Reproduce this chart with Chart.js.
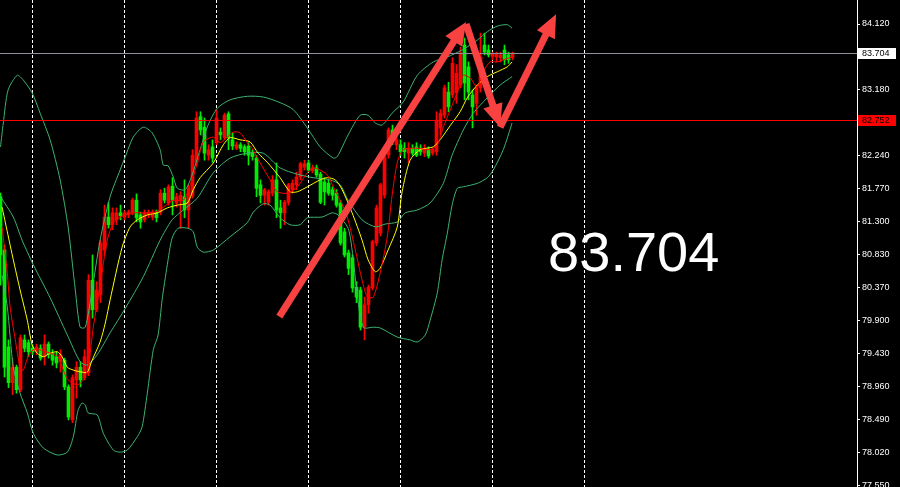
<!DOCTYPE html>
<html>
<head>
<meta charset="utf-8">
<script src="https://cdn.jsdelivr.net/npm/chart.js@4.4.1/dist/chart.umd.min.js"></script>
<style>
  html, body { margin: 0; padding: 0; background: #000; }
  #wrap { position: relative; width: 900px; height: 487px; }
</style>
</head>
<body>
<div id="wrap"><canvas id="c"></canvas></div>
<script>
// candles, one per bar (bar index = array index)
const opens = [81.66,80.90,79.52,79.01,79.23,78.91,79.62,79.58,79.50,79.45,
  79.50,79.38,79.56,79.43,79.38,79.31,79.33,78.95,78.48,79.05,
  79.23,79.08,79.15,80.47,80.05,80.26,80.90,81.37,81.26,81.33,
  81.43,81.37,81.40,81.43,81.61,81.40,81.33,81.40,81.37,81.44,
  81.44,81.71,81.57,81.81,81.57,81.61,81.66,81.47,81.68,82.15,
  82.80,82.65,82.25,82.37,82.43,82.58,82.50,82.84,82.47,82.35,
  82.40,82.37,82.38,82.28,82.21,81.83,81.68,81.58,81.71,81.90,
  81.50,81.43,81.58,81.76,81.83,81.94,82.08,82.14,82.03,82.07,
  81.98,81.87,81.85,81.76,81.71,81.57,81.16,80.86,80.79,80.37,
  80.33,79.80,80.12,80.36,81.00,81.14,81.68,82.25,82.61,82.40,
  82.40,82.35,82.28,82.35,82.37,82.35,82.28,82.33,82.28,82.30,
  82.64,82.82,83.15,83.11,83.14,83.25,83.82,83.51,83.11,82.99,
  83.21,83.82,83.75,83.66,83.65,83.64,83.75,83.68,83.64];
const highs = [81.71,80.97,79.62,79.36,79.26,79.69,79.69,79.62,79.55,79.56,
  79.55,79.69,79.59,79.48,79.45,79.48,79.36,78.98,79.12,79.31,
  79.31,79.48,80.55,80.83,80.45,81.04,81.54,81.58,81.50,81.50,
  81.54,81.46,81.47,81.64,81.70,81.44,81.47,81.47,81.47,81.47,
  81.76,81.78,81.83,81.93,81.71,81.73,81.90,81.83,82.33,82.87,
  82.87,82.78,82.40,82.47,82.90,82.64,82.85,82.87,82.57,82.44,
  82.43,82.40,82.43,82.33,82.25,81.90,81.78,81.76,81.96,82.14,
  81.61,81.61,81.85,81.90,82.01,82.15,82.18,82.18,82.11,82.11,
  82.01,81.93,81.90,81.80,81.76,81.61,81.21,80.90,80.83,80.45,
  80.37,80.23,80.40,81.04,81.54,81.85,82.25,82.64,82.68,82.54,
  82.47,82.43,82.43,82.40,82.43,82.40,82.40,82.37,82.35,82.87,
  82.90,83.25,83.29,83.64,83.54,83.79,83.92,83.58,83.18,83.25,
  83.99,83.99,83.82,83.72,83.72,83.72,83.82,83.72,83.72];
const lows = [80.40,79.09,78.94,78.84,78.86,78.88,79.45,79.38,79.41,79.41,
  79.33,79.26,79.36,79.26,79.22,79.16,78.91,78.48,78.44,78.79,
  78.95,79.05,79.11,79.93,80.02,80.15,80.83,81.21,81.19,81.26,
  81.33,81.33,81.36,81.40,81.30,81.21,81.30,81.36,81.33,81.30,
  81.40,81.57,81.54,81.40,81.51,81.21,81.36,81.21,81.64,82.11,
  82.54,82.18,82.18,82.15,82.40,82.47,82.47,82.33,82.33,82.33,
  82.30,82.25,82.11,82.18,81.66,81.57,81.54,81.54,81.67,81.36,
  81.21,81.26,81.54,81.71,81.76,81.90,82.04,82.01,82.00,81.94,
  81.56,81.54,81.68,81.61,81.51,80.97,80.80,80.55,80.30,80.15,
  79.76,79.62,80.00,80.33,80.96,81.10,81.64,82.21,82.40,82.33,
  82.25,82.21,82.14,82.25,82.23,82.25,82.23,82.21,82.25,82.25,
  82.54,82.78,82.87,83.07,82.99,83.21,83.04,83.04,82.64,82.82,
  83.15,83.68,83.65,83.61,83.58,83.58,83.54,83.56,83.61];
const closes = [80.83,79.23,79.01,79.23,78.91,79.65,79.50,79.45,79.45,79.52,
  79.36,79.56,79.41,79.33,79.29,79.41,78.95,78.52,79.08,79.23,
  79.05,79.38,80.47,80.05,80.33,81.00,81.37,81.26,81.43,81.43,
  81.39,81.43,81.44,81.61,81.36,81.30,81.43,81.44,81.44,81.36,
  81.71,81.61,81.80,81.61,81.66,81.68,81.47,81.78,82.25,82.78,
  82.61,82.28,82.33,82.21,82.78,82.54,82.82,82.50,82.38,82.40,
  82.35,82.30,82.25,82.23,81.78,81.68,81.76,81.73,81.90,81.47,
  81.43,81.58,81.83,81.85,81.94,82.13,82.13,82.04,82.07,81.97,
  81.58,81.73,81.71,81.68,81.54,81.00,80.83,80.64,80.36,80.23,
  79.80,80.12,80.37,81.02,81.50,81.83,82.23,82.61,82.47,82.47,
  82.30,82.30,82.35,82.28,82.25,82.30,82.35,82.24,82.33,82.75,
  82.85,83.21,82.94,83.56,83.42,83.71,83.28,83.15,82.94,83.21,
  83.65,83.72,83.68,83.69,83.69,83.68,83.61,83.61,83.70];

// indicator lines: [bar index, price]
const bandUpper = [[0,82.37],[0.7,82.71],[1.9,83.18],[4.2,83.39],[5.7,83.32],[7.9,83.14],[9.9,82.85],[12.4,82.47],[14.9,81.90],[16.9,81.23],[18.7,80.33],[19.9,79.80],[21.2,79.80],[22.9,80.33],[24.9,81.04],[27.4,81.66],[29.9,82.04],[31.2,82.23],[33.2,82.51],[35.7,82.65],[37.9,82.57],[39.9,82.33],[40.7,82.11],[41.9,82.10],[43.2,81.94],[44.2,81.78],[46.2,81.76],[47.9,81.97],[49.9,82.33],[51.9,82.68],[54.2,82.92],[57.4,83.04],[61.7,83.09],[65.7,83.08],[69.9,83.00],[73.2,82.90],[76.7,82.64],[79.9,82.37],[83.2,82.21],[84.2,82.23],[86.9,82.54],[89.9,82.82],[91.9,82.82],[93.7,82.71],[95.4,82.68],[97.9,82.85],[100.7,83.01],[104.2,83.39],[108.2,83.58],[111.7,83.65],[115.4,83.75],[119.2,83.89],[121.7,84.01],[124.2,84.09],[126.7,84.11],[127.9,84.06]];
const bandMiddle = [[0,81.66],[3.2,81.37],[5.4,81.04],[8.2,80.69],[12.4,80.22],[16.7,79.69],[19.9,79.31],[21.7,79.26],[24.2,79.41],[27.4,79.72],[31.2,80.07],[35.7,80.52],[39.9,81.04],[42.9,81.33],[45.7,81.47],[49.2,81.64],[53.2,82.00],[57.4,82.21],[61.7,82.28],[65.7,82.28],[69.9,82.07],[74.2,81.98],[78.2,81.93],[82.4,81.90],[84.9,81.83],[86.9,81.61],[90.4,81.33],[93.7,81.23],[96.2,81.27],[99.2,81.30],[101.2,81.43],[104.2,81.47],[107.4,81.57],[110.7,81.85],[112.9,82.25],[115.7,82.61],[118.2,82.85],[121.7,83.07],[124.9,83.25],[127.9,83.37]];
const bandLower = [[0.4,80.54],[1.7,80.09],[3.2,79.23],[4.9,78.86],[6.7,78.58],[8.2,78.29],[10.7,78.08],[14.2,77.98],[16.7,78.02],[18.2,78.24],[19.4,78.62],[20.4,78.72],[21.2,78.69],[21.9,78.58],[24.2,78.55],[25.7,78.29],[28.2,78.05],[29.9,78.02],[31.7,78.05],[34.2,78.24],[35.4,78.38],[36.7,78.86],[38.2,79.48],[39.4,79.69],[40.4,80.19],[41.7,80.69],[42.9,81.07],[44.4,81.21],[46.9,81.21],[48.2,81.16],[49.2,80.94],[50.7,80.87],[53.2,80.90],[57.4,81.09],[61.7,81.29],[63.2,81.44],[65.7,81.56],[67.4,81.54],[69.9,81.36],[72.4,81.26],[74.9,81.26],[76.7,81.36],[80.4,81.37],[82.9,81.43],[84.4,81.40],[86.9,81.21],[87.9,80.90],[88.9,80.40],[89.9,79.97],[90.9,79.79],[92.9,79.80],[94.9,79.79],[99.2,79.66],[102.4,79.62],[104.2,79.59],[106.2,79.69],[107.4,79.90],[109.2,80.29],[110.4,80.76],[111.7,81.14],[112.9,81.54],[114.2,81.78],[115.7,81.80],[119.2,81.85],[121.7,81.93],[123.2,82.04],[125.7,82.33],[127.9,82.71]];
const maSlow = [[0.4,81.51],[1.7,81.16],[3.2,80.76],[4.9,80.33],[6.7,79.90],[7.9,79.55],[9.2,79.43],[10.7,79.38],[12.4,79.43],[14.2,79.45],[15.4,79.38],[16.7,79.23],[18.2,79.19],[20.4,79.16],[21.7,79.16],[22.9,79.33],[24.9,79.59],[26.2,79.86],[27.4,80.19],[30.4,80.94],[32.4,81.23],[34.2,81.33],[36.7,81.40],[39.2,81.43],[41.7,81.50],[44.2,81.54],[46.7,81.57],[48.2,81.76],[49.9,81.93],[53.2,82.14],[55.7,82.40],[57.4,82.50],[59.9,82.47],[62.4,82.44],[64.4,82.28],[66.7,82.15],[69.9,81.93],[72.4,81.73],[74.2,81.73],[76.7,81.80],[79.9,81.90],[81.7,81.93],[83.7,81.90],[85.4,81.76],[87.9,81.43],[90.4,81.04],[91.9,80.76],[93.7,80.59],[94.9,80.64],[96.9,80.90],[99.2,81.23],[100.4,81.73],[102.4,82.18],[104.9,82.33],[108.2,82.37],[109.9,82.47],[112.4,82.67],[114.9,82.87],[116.7,83.07],[119.2,83.25],[121.7,83.37],[124.2,83.44],[126.7,83.51],[127.9,83.58]];
const maFast = [[0.4,81.23],[1.7,80.57],[2.4,80.09],[3.7,79.62],[4.9,79.23],[5.7,79.19],[6.9,79.38],[8.2,79.48],[9.9,79.48],[12.4,79.43],[14.4,79.38],[15.7,79.19],[16.9,79.05],[19.2,78.98],[20.7,79.05],[21.9,79.23],[23.2,79.80],[24.9,80.40],[26.7,81.04],[28.2,81.29],[29.9,81.37],[33.2,81.43],[38.2,81.43],[40.7,81.51],[43.2,81.61],[45.7,81.61],[47.9,81.90],[49.4,82.18],[50.7,82.44],[53.2,82.51],[54.9,82.43],[56.7,82.51],[58.2,82.58],[59.9,82.57],[61.7,82.43],[62.9,82.35],[64.9,82.14],[67.4,81.90],[69.2,81.73],[71.7,81.71],[74.2,81.80],[76.7,82.00],[78.2,82.07],[79.9,82.04],[81.7,81.97],[83.2,81.80],[84.9,81.61],[86.7,81.37],[88.7,80.90],[90.4,80.47],[91.7,80.23],[93.2,80.23],[94.9,80.57],[96.7,81.09],[97.9,81.68],[99.2,82.15],[100.7,82.33],[104.2,82.35],[107.4,82.33],[109.2,82.40],[110.7,82.65],[112.4,82.89],[114.2,83.15],[115.7,83.39],[117.4,83.35],[119.2,83.22],[120.7,83.44],[122.4,83.58],[124.2,83.58],[125.7,83.61],[127.9,83.65]];

const priceTicks = [84.12,83.65,83.18,82.71,82.24,81.77,81.30,80.83,80.37,79.90,79.43,78.96,78.49,78.02,77.55];
const gridBars = [8,31,54,77,100,123,146];
const lastPrice = 83.704;
const levelPrice = 82.752;
// hand-drawn arrows: [fromBar, fromPrice, toBar, toPrice]
const arrows = [[69.7,79.95,116.4,84.15],[116.4,84.12,124.9,82.65],[124.9,82.65,138.9,84.26]];
const bigLabel = '83.704';
const bigLabelAt = [136.9, 80.60];

const UP = '#ff0000', DOWN = '#00ee00', BAND = '#3cb371';
const candleColors = closes.map((c, i) => c >= opens[i] ? UP : DOWN);
const pts = arr => arr.map(p => ({ x: p[0], y: p[1] }));

function lineSet(data, color, order) {
  return { type: 'line', data: pts(data), borderColor: color, borderWidth: 1,
    pointRadius: 0, tension: 0.25, fill: false, order: order };
}

function drawArrow(ctx, x1, y1, x2, y2) {
  const a = Math.atan2(y2 - y1, x2 - x1);
  const headLen = 23, headW = 10, half = 3.5;
  const bx = x2 - headLen * Math.cos(a), by = y2 - headLen * Math.sin(a);
  const nx = -Math.sin(a), ny = Math.cos(a);
  ctx.beginPath();
  ctx.moveTo(x1 + nx * half, y1 + ny * half);
  ctx.lineTo(bx + nx * half, by + ny * half);
  ctx.lineTo(bx + nx * headW, by + ny * headW);
  ctx.lineTo(x2, y2);
  ctx.lineTo(bx - nx * headW, by - ny * headW);
  ctx.lineTo(bx - nx * half, by - ny * half);
  ctx.lineTo(x1 - nx * half, y1 - ny * half);
  ctx.closePath();
  ctx.fill();
}

const overlay = {
  id: 'overlay',
  beforeDatasetsDraw(chart) {
    const { ctx, chartArea: ca, scales: { x } } = chart;
    ctx.save();
    ctx.strokeStyle = '#ffffff';
    ctx.lineWidth = 1;
    ctx.setLineDash([3, 2]);
    gridBars.forEach(b => {
      const px = Math.round(x.getPixelForValue(b) - 0.5) + 0.5;
      ctx.beginPath();
      ctx.moveTo(px, ca.top);
      ctx.lineTo(px, ca.bottom);
      ctx.stroke();
    });
    ctx.restore();
  },
  afterDraw(chart) {
    const { ctx, chartArea: ca, scales: { x, y } } = chart;
    ctx.save();
    ctx.beginPath();
    ctx.rect(ca.left, ca.top, ca.right - ca.left, ca.bottom - ca.top);
    ctx.clip();
    // horizontal price lines
    const yLast = Math.round(y.getPixelForValue(lastPrice)) + 0.5;
    const yLevel = Math.round(y.getPixelForValue(levelPrice)) + 0.5;
    ctx.lineWidth = 1;
    ctx.strokeStyle = '#8c919a';
    ctx.beginPath(); ctx.moveTo(ca.left, yLast); ctx.lineTo(ca.right, yLast); ctx.stroke();
    ctx.strokeStyle = '#ff0000';
    ctx.beginPath(); ctx.moveTo(ca.left, yLevel); ctx.lineTo(ca.right, yLevel); ctx.stroke();
    // arrows
    ctx.fillStyle = '#f84242';
    arrows.forEach(a => drawArrow(ctx,
      x.getPixelForValue(a[0]), y.getPixelForValue(a[1]),
      x.getPixelForValue(a[2]), y.getPixelForValue(a[3])));
    // big price text
    ctx.fillStyle = '#ffffff';
    ctx.font = '56px "Liberation Sans", Arial, sans-serif';
    ctx.textAlign = 'left';
    ctx.textBaseline = 'alphabetic';
    ctx.fillText(bigLabel, x.getPixelForValue(bigLabelAt[0]), y.getPixelForValue(bigLabelAt[1]));
    ctx.restore();

    // price boxes on the axis
    ctx.save();
    ctx.font = '9px "Liberation Sans", Arial, sans-serif';
    ctx.textAlign = 'left';
    ctx.textBaseline = 'middle';
    [[yLast, lastPrice, '#ffffff'], [yLevel, levelPrice, '#ff0000']].forEach(b => {
      const yy = Math.floor(b[0]);
      ctx.fillStyle = b[2];
      ctx.fillRect(ca.right + 1, yy - 5, 38, 11);
      ctx.fillStyle = '#000000';
      ctx.fillText(b[1].toFixed(3), ca.right + 5, yy + 1);
    });
    ctx.restore();
  }
};

new Chart(document.getElementById('c'), {
  type: 'bar',
  data: {
    datasets: [
      lineSet(bandUpper, BAND, 3),
      lineSet(bandMiddle, BAND, 3),
      lineSet(bandLower, BAND, 3),
      lineSet(maSlow, '#ffff00', 2),
      lineSet(maFast, '#ff0000', 1),
      { type: 'bar', data: lows.map((l, i) => ({ x: i, y: [l, highs[i]] })),
        backgroundColor: candleColors, barThickness: 1, grouped: false, minBarLength: 1, order: 10 },
      { type: 'bar', data: opens.map((o, i) => ({ x: i, y: [o, closes[i]] })),
        backgroundColor: candleColors, barThickness: 3, grouped: false, minBarLength: 1, order: 9 }
    ]
  },
  options: {
    responsive: true,
    maintainAspectRatio: false,
    animation: false,
    layout: { padding: 0 },
    plugins: { legend: { display: false }, tooltip: { enabled: false } },
    scales: {
      x: {
        type: 'linear', display: false, offset: false,
        min: -0.125, max: 214.125,
        afterFit: s => { s.paddingLeft = 0; s.paddingRight = 0; }
      },
      y: {
        position: 'right', min: 77.524, max: 84.462,
        afterBuildTicks: s => { s.ticks = priceTicks.map(v => ({ value: v })); },
        afterFit: s => { s.width = 43; s.paddingTop = 0; s.paddingBottom = 0; },
        ticks: {
          color: '#ffffff', autoSkip: false, padding: 2,
          font: { family: '"Liberation Sans", Arial, sans-serif', size: 9 },
          callback: v => Number(v).toFixed(3)
        },
        grid: { drawOnChartArea: false, drawTicks: true, tickLength: 3, color: '#ffffff' },
        border: { display: true, color: '#ffffff', width: 1 }
      }
    }
  },
  plugins: [overlay]
});
</script>
</body>
</html>
